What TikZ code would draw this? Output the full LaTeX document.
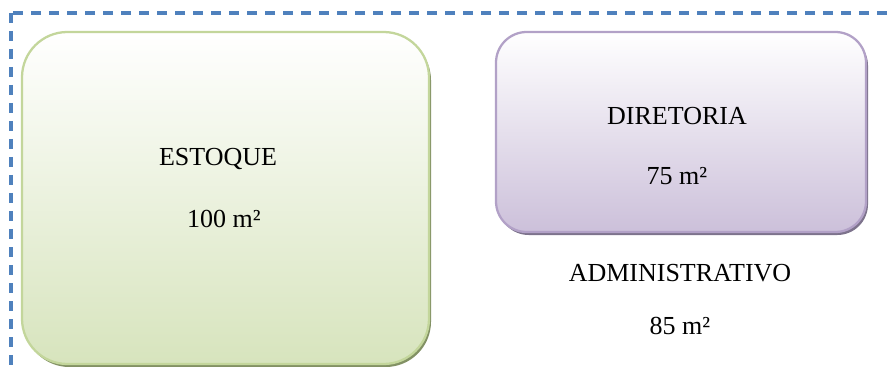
\documentclass[tikz,border=0pt]{standalone}
\usepackage{fontspec}
\setmainfont{Liberation Serif}
\definecolor{dashblue}{RGB}{79,129,189}
\definecolor{greenfill}{RGB}{215,228,189}
\definecolor{greenline}{RGB}{195,214,155}
\definecolor{greenshadow}{RGB}{130,145,100}
\definecolor{purplefill}{RGB}{204,192,218}
\definecolor{purpleline}{RGB}{178,161,199}
\definecolor{purpleshadow}{RGB}{125,115,140}
\tikzset{
  lbl/.style={font=\fontsize{19.5}{23}\selectfont, inner sep=0pt, text=black},
  greenbox/.style={draw=greenline, line width=1.7pt, top color=white, bottom color=greenfill, rounded corners=34pt},
  purplebox/.style={draw=purpleline, line width=1.7pt, top color=white, bottom color=purplefill, rounded corners=23pt},
}
\begin{document}
\begin{tikzpicture}[x=0.75pt,y=-0.75pt]
\useasboundingbox (0,0) rectangle (889,367);
\clip (0,0) rectangle (889,367);
% outer dashed boundary
\draw[dashblue, line width=2.4pt, dash pattern=on 7.5pt off 6pt] (11,13) rectangle (905,385);
% shadows
\fill[greenshadow, rounded corners=34pt] (24,35) rectangle (431,367);
\fill[purpleshadow, rounded corners=23pt] (498,35) rectangle (868,235);
% boxes
\path[greenbox] (22,32) rectangle (429,364);
\path[purplebox] (496,32) rectangle (866,232);
% labels
\node[lbl] (estoque) at (218,159) {ESTOQUE};
\node[lbl] (estoquearea) at (224,219) {100 m²};
\node[lbl] (diretoria) at (677,116) {DIRETORIA};
\node[lbl] (diretoriaarea) at (677,176) {75 m²};
\node[lbl] (admin) at (680,273) {ADMINISTRATIVO};
\node[lbl] (adminarea) at (680,326) {85 m²};
\end{tikzpicture}
\end{document}
